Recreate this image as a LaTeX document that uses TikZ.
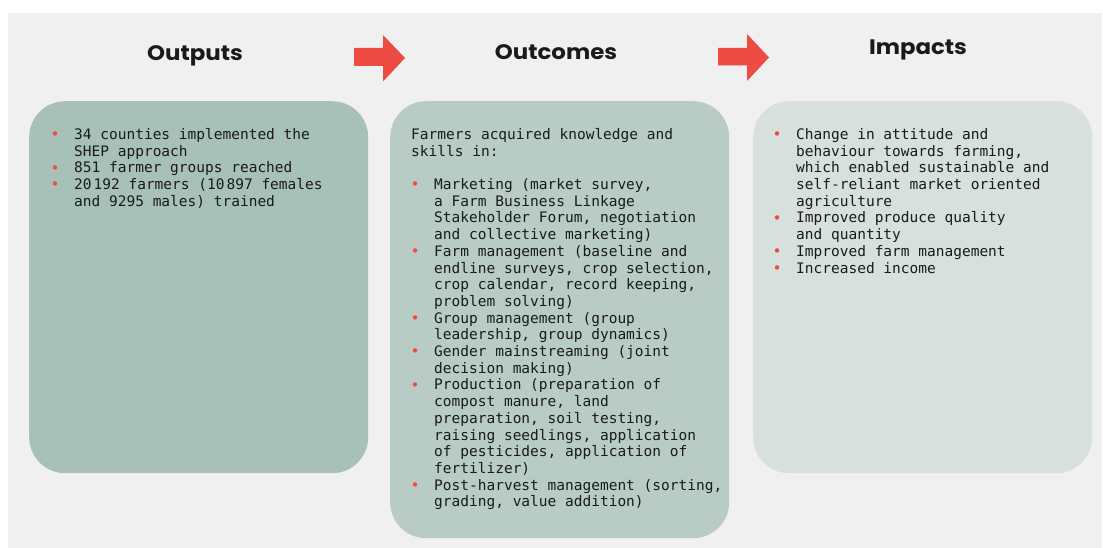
\documentclass[tikz,border=0pt]{standalone}
\usepackage{fontspec}
\usepackage{xcolor}
\newfontfamily\titlefont{Poppins}[FakeStretch=1.09]
\newfontfamily\monofont{DejaVu Sans Mono}
\definecolor{bggrey}{HTML}{F0F0F0}
\definecolor{outputgreen}{HTML}{A7C1B8}
\definecolor{outcomegreen}{HTML}{B8CCC5}
\definecolor{impactgreen}{HTML}{D7E0DD}
\definecolor{arrowred}{HTML}{EE4B42}
\definecolor{inkblack}{HTML}{1A1A1A}
\newcommand{\dotitem}{\makebox[23pt][l]{\hspace*{-0.5pt}\raisebox{-0.3pt}{\textcolor{arrowred}{\fontsize{15}{15}\selectfont •}}}}
\tikzset{
  panel/.style={rounded corners=36pt, minimum width=339pt, anchor=north west, inner sep=0pt},
  heading/.style={font=\titlefont\bfseries\fontsize{21}{24}\selectfont, text=inkblack, anchor=base},
  bodytext/.style={font=\monofont\fontsize{14.5}{16.7}\selectfont, text=inkblack, anchor=base west, inner sep=0pt}
}
\begin{document}
\begin{tikzpicture}[x=1pt,y=-1pt]
  \useasboundingbox (0,0) rectangle (1103,548);
  \fill[bggrey] (8,13) rectangle (1102,548);
  % titles
  \node[heading] (outputstitle) at (195,61) {Outputs};
  \node[heading] (outcomestitle) at (556,60) {Outcomes};
  \node[heading] (impactstitle) at (918,55) {Impacts};
  % red arrows
  \fill[arrowred] (354,48) -- (383,48) -- (383,35) -- (405,58) -- (383,81.5) -- (383,66) -- (354,66) -- cycle;
  \fill[arrowred] (718,48) -- (747,48) -- (747,34) -- (769,57.5) -- (747,81) -- (747,65.5) -- (718,65.5) -- cycle;
  % panels
  \node[panel, fill=outputgreen, minimum height=372pt] (outputs) at (29,101) {};
  \node[panel, fill=outcomegreen, minimum height=437pt] (outcomes) at (390,101) {};
  \node[panel, fill=impactgreen, minimum height=372pt] (impacts) at (753,101) {};
  % texts
  \node[bodytext] (outputstext) at (51,139.5) {\begin{tabular}[t]{@{}l@{}l@{}}
    \dotitem & 34 counties implemented the\\
             & SHEP approach\\
    \dotitem & 851 farmer groups reached\\
    \dotitem & 20\kern2pt192 farmers (10\kern2pt897 females\\
             & and 9295 males) trained
  \end{tabular}};
  \node[bodytext] (outcomestext) at (411,139.5) {\begin{tabular}[t]{@{}l@{}l@{}}
    \multicolumn{2}{@{}l@{}}{Farmers acquired knowledge and}\\
    \multicolumn{2}{@{}l@{}}{skills in:}\\
    \mbox{}\\
    \dotitem & Marketing (market survey,\\
             & a Farm Business Linkage\\
             & Stakeholder Forum, negotiation\\
             & and collective marketing)\\
    \dotitem & Farm management (baseline and\\
             & endline surveys, crop selection,\\
             & crop calendar, record keeping,\\
             & problem solving)\\
    \dotitem & Group management (group\\
             & leadership, group dynamics)\\
    \dotitem & Gender mainstreaming (joint\\
             & decision making)\\
    \dotitem & Production (preparation of\\
             & compost manure, land\\
             & preparation, soil testing,\\
             & raising seedlings, application\\
             & of pesticides, application of\\
             & fertilizer)\\
    \dotitem & Post-harvest management (sorting,\\
             & grading, value addition)
  \end{tabular}};
  \node[bodytext] (impactstext) at (773,139.5) {\begin{tabular}[t]{@{}l@{}l@{}}
    \dotitem & Change in attitude and\\
             & behaviour towards farming,\\
             & which enabled sustainable and\\
             & self-reliant market oriented\\
             & agriculture\\
    \dotitem & Improved produce quality\\
             & and quantity\\
    \dotitem & Improved farm management\\
    \dotitem & Increased income
  \end{tabular}};
\end{tikzpicture}
\end{document}
